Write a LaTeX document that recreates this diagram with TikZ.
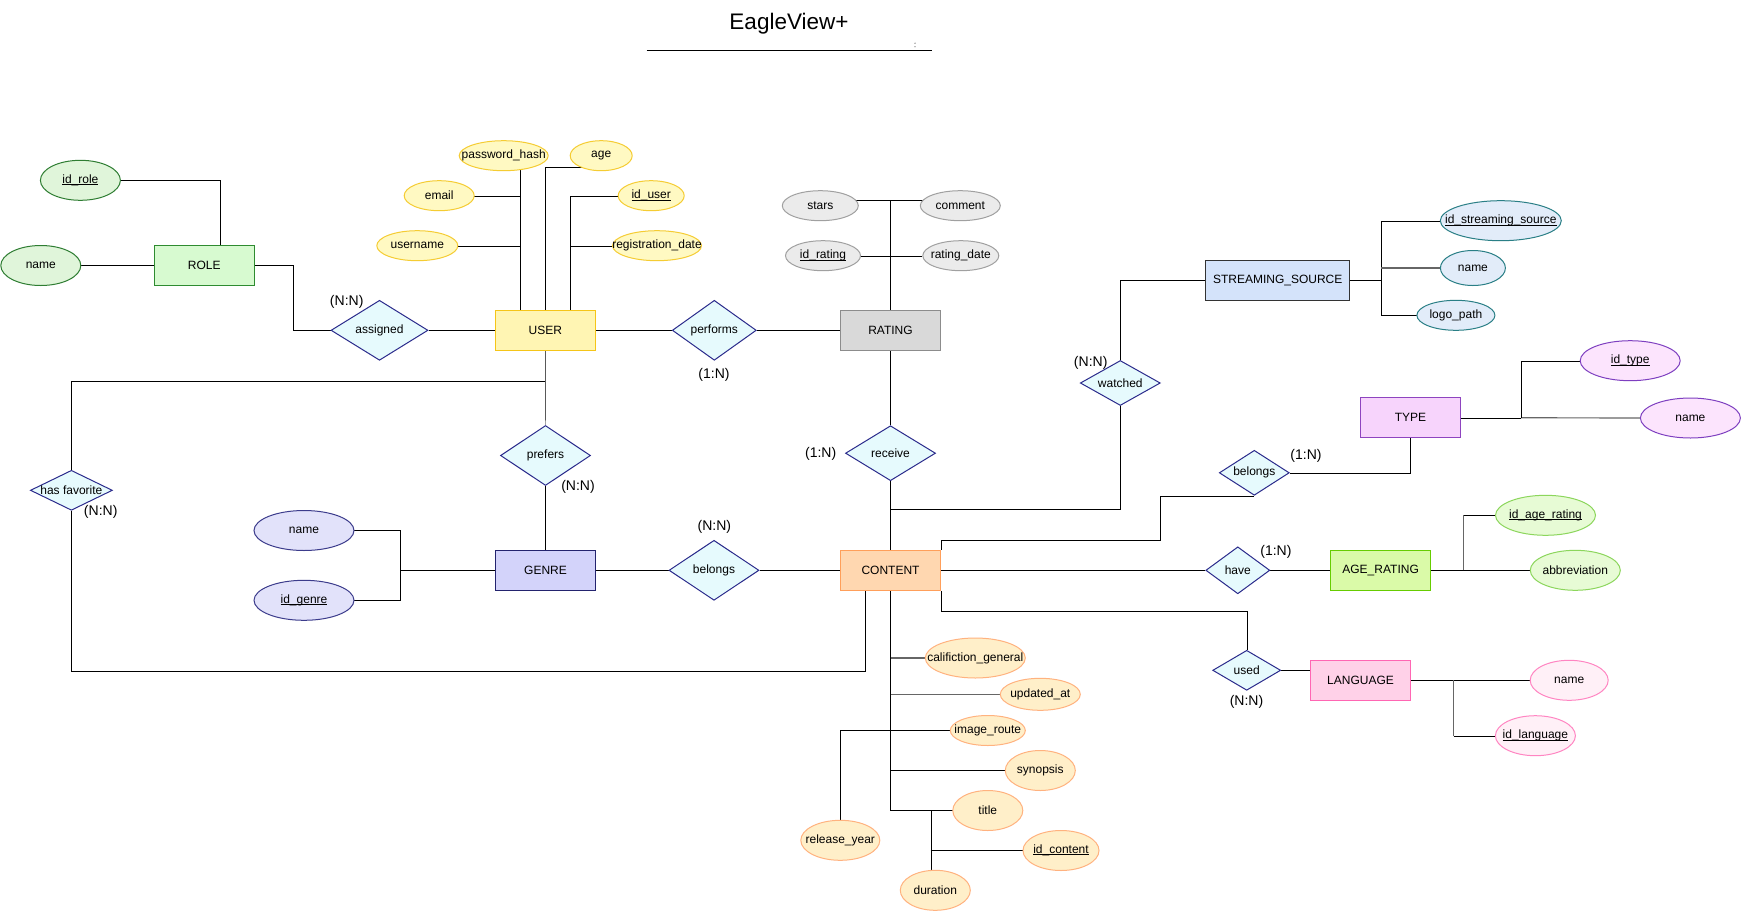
\documentclass[tikz,border=0pt]{standalone}
\usepackage{fontspec}
\setmainfont{Liberation Sans}
\usetikzlibrary{shapes.geometric,calc,backgrounds}

% key attributes: underline drawn just below the baseline
\newcommand\keyattr[1]{\setbox0\hbox{#1}\rlap{\rule[-1.6pt]{\wd0}{0.8pt}}\box0}

% entity / attribute palettes
\definecolor{roleFill}{HTML}{D7FAD0}   \definecolor{roleLine}{HTML}{2E8B30}
\definecolor{roleAFill}{HTML}{E0F5DA}  \definecolor{roleALine}{HTML}{2E7D32}
\definecolor{userFill}{HTML}{FFF5B3}   \definecolor{userLine}{HTML}{F5C518}
\definecolor{userAFill}{HTML}{FFF9C2}  \definecolor{userALine}{HTML}{F5CC33}
\definecolor{ratingFill}{HTML}{D9D9D9} \definecolor{ratingLine}{HTML}{8C8C8C}
\definecolor{ratingAFill}{HTML}{EBEBEB}\definecolor{ratingALine}{HTML}{A0A0A0}
\definecolor{ssFill}{HTML}{D4E3FA}     \definecolor{ssLine}{HTML}{333333}
\definecolor{ssAFill}{HTML}{E2ECF9}    \definecolor{ssALine}{HTML}{2A7F86}
\definecolor{typeFill}{HTML}{F7D4FC}   \definecolor{typeLine}{HTML}{8E44BF}
\definecolor{typeAFill}{HTML}{FCE4FD}  \definecolor{typeALine}{HTML}{7E3FC0}
\definecolor{genreFill}{HTML}{D3D3FA}  \definecolor{genreLine}{HTML}{23236E}
\definecolor{genreAFill}{HTML}{E2E2FA} \definecolor{genreALine}{HTML}{3C3C8C}
\definecolor{contentFill}{HTML}{FFD7B0}\definecolor{contentLine}{HTML}{FF9F5A}
\definecolor{contentAFill}{HTML}{FFEFC9}\definecolor{contentALine}{HTML}{FFB27F}
\definecolor{ageFill}{HTML}{DAFAA8}    \definecolor{ageLine}{HTML}{66CC00}
\definecolor{ageAFill}{HTML}{E7FBD5}   \definecolor{ageALine}{HTML}{8CD65C}
\definecolor{langFill}{HTML}{FFD1E8}   \definecolor{langLine}{HTML}{FF66B3}
\definecolor{langAFill}{HTML}{FFF0F7}  \definecolor{langALine}{HTML}{FF85C2}
\definecolor{relFill}{HTML}{E6FAFD}    \definecolor{relLine}{HTML}{2B2B8C}
\definecolor{linkGray}{HTML}{666666}

\begin{document}
\begin{tikzpicture}[x=1pt,y=-1pt,line width=1pt,
  font=\fontsize{12}{14}\selectfont,
  every label/.style={inner sep=0pt,font=\fontsize{12}{14}\selectfont},
  ent/.style={rectangle,draw=#1Line,fill=#1Fill,minimum height=40pt,inner sep=0pt},
  attr/.style={ellipse,draw=#1ALine,fill=#1AFill,inner sep=0pt},
  rel/.style={diamond,draw=relLine,fill=relFill,inner sep=0pt},
  txt/.style={label={center:#1}},
  card/.style={font=\fontsize{14}{16}\selectfont,inner sep=0pt},
  glink/.style={draw=linkGray,line width=1.2pt}]

\useasboundingbox (0,0) rectangle (1741,911);

% heading
\node[font=\fontsize{22.5}{27}\selectfont,anchor=base,inner sep=0pt] (heading) at (789,29.3) {EagleView+};
\coordinate (hl) at (646.7,50);
\coordinate (hr) at (932.3,50);
\draw (hl) -- (hr);
\fill[linkGray] (915,43.2) circle (0.7) (915,46.8) circle (0.6);

% ---------- entities ----------
\node[ent=role,minimum width=100pt] (role) at (204.2,265.5) {ROLE};
\node[ent=user,minimum width=100pt] (user) at (545.3,330.3) {USER};
\node[ent=rating,minimum width=100pt] (rating) at (890.5,330.3) {RATING};
\node[ent=ss,minimum width=144pt] (ss) at (1277.7,280.3) {STREAMING\_SOURCE};
\node[ent=type,minimum width=100pt] (type) at (1410.5,417.8) {TYPE};
\node[ent=genre,minimum width=100pt] (genre) at (545.5,570.3) {GENRE};
\node[ent=content,minimum width=100pt] (content) at (890.5,570.3) {CONTENT};
\node[ent=age,minimum width=100pt] (agerating) at (1380.6,570.3) {AGE\_RATING};
\node[ent=lang,minimum width=100pt] (language) at (1360.5,680.3) {LANGUAGE};

% ---------- attributes ----------
\node[attr=role,minimum width=80pt,minimum height=40pt,txt={\keyattr{id\_role}}] (idrole) at (80.4,180.3) {};
\node[attr=role,minimum width=80pt,minimum height=40pt,txt={name}] (rolename) at (40.8,265.5) {};

\node[attr=user,minimum width=89pt,minimum height=30pt,txt={password\_hash}] (pwd) at (503.7,155.7) {};
\node[attr=user,minimum width=62pt,minimum height=30pt,txt={age}] (age) at (601.2,155.7) {};
\node[attr=user,minimum width=70pt,minimum height=30pt,txt={email}] (email) at (439.2,195.7) {};
\node[attr=user,minimum width=66pt,minimum height=30pt,txt={\keyattr{id\_user}}] (iduser) at (651.2,195.7) {};
\node[attr=user,minimum width=81pt,minimum height=30pt,txt={username}] (username) at (417.3,245.7) {};
\node[attr=user,minimum width=89pt,minimum height=30pt,txt={registration\_date}] (regdate) at (657,245.7) {};

\node[attr=rating,minimum width=76pt,minimum height=30pt,txt={stars}] (stars) at (820.3,205.7) {};
\node[attr=rating,minimum width=80pt,minimum height=30pt,txt={comment}] (comment) at (960.3,205.7) {};
\node[attr=rating,minimum width=75pt,minimum height=30pt,txt={\keyattr{id\_rating}}] (idrating) at (823,255.7) {};
\node[attr=rating,minimum width=76pt,minimum height=30pt,txt={rating\_date}] (ratingdate) at (960.8,255.7) {};

\node[attr=ss,minimum width=121pt,minimum height=40pt,txt={\keyattr{id\_streaming\_source}}] (idss) at (1500.8,220.7) {};
\node[attr=ss,minimum width=65pt,minimum height=35pt,txt={name}] (ssname) at (1472.9,268) {};
\node[attr=ss,minimum width=78pt,minimum height=30pt,txt={logo\_path}] (logo) at (1455.9,315.3) {};

\node[attr=type,minimum width=100pt,minimum height=40pt,txt={\keyattr{id\_type}}] (idtype) at (1630.2,360.7) {};
\node[attr=type,minimum width=100pt,minimum height=40pt,txt={name}] (typename) at (1690.4,418) {};

\node[attr=genre,minimum width=100pt,minimum height=40pt,txt={name}] (gname) at (304,530.5) {};
\node[attr=genre,minimum width=100pt,minimum height=40pt,txt={\keyattr{id\_genre}}] (idgenre) at (304,600.3) {};

\node[attr=content,minimum width=100pt,minimum height=40pt,txt={califiction\_general}] (calif) at (975.3,658) {};
\node[attr=content,minimum width=80pt,minimum height=32pt,txt={updated\_at}] (updated) at (1040.3,694.3) {};
\node[attr=content,minimum width=75pt,minimum height=30pt,txt={image\_route}] (imgroute) at (987.8,730.5) {};
\node[attr=content,minimum width=70pt,minimum height=40pt,txt={synopsis}] (synopsis) at (1040.3,770.5) {};
\node[attr=content,minimum width=70pt,minimum height=40pt,txt={title}] (ctitle) at (987.8,810.5) {};
\node[attr=content,minimum width=76pt,minimum height=40pt,txt={\keyattr{id\_content}}] (idcontent) at (1061,850.5) {};
\node[attr=content,minimum width=70pt,minimum height=40pt,txt={duration}] (duration) at (935.3,890.3) {};
\node[attr=content,minimum width=79pt,minimum height=40pt,txt={release\_year}] (release) at (840.3,840.3) {};

\node[attr=age,minimum width=100pt,minimum height=40pt,txt={\keyattr{id\_age\_rating}}] (idage) at (1545.5,515.3) {};
\node[attr=age,minimum width=90pt,minimum height=40pt,txt={abbreviation}] (abbrev) at (1575.3,570.3) {};

\node[attr=lang,minimum width=78pt,minimum height=40pt,txt={name}] (langname) at (1569.2,680.3) {};
\node[attr=lang,minimum width=80pt,minimum height=40pt,txt={\keyattr{id\_language}}] (idlang) at (1535.4,735.7) {};

% ---------- relationships ----------
\node[rel,minimum width=97pt,minimum height=60pt,txt={assigned}] (assigned) at (379.5,330.3) {};
\node[rel,minimum width=84pt,minimum height=60pt,txt={performs}] (performs) at (714.3,330.3) {};
\node[rel,minimum width=90pt,minimum height=55pt,txt={receive}] (receive) at (890.5,453.2) {};
\node[rel,minimum width=90pt,minimum height=60pt,txt={prefers}] (prefers) at (545.5,455.5) {};
\node[rel,minimum width=90pt,minimum height=60pt,txt={belongs}] (belongs) at (714,570.3) {};
\node[rel,minimum width=80pt,minimum height=45pt,txt={watched}] (watched) at (1120.3,383) {};
\node[rel,minimum width=70pt,minimum height=45pt,txt={belongs}] (belongs2) at (1254.3,472.8) {};
\node[rel,minimum width=64pt,minimum height=47pt,txt={have}] (have) at (1237.8,570.3) {};
\node[rel,minimum width=68pt,minimum height=40pt,txt={used}] (used) at (1246.7,670.3) {};
\node[rel,minimum width=82pt,minimum height=40pt,txt={has favorite}] (hasfav) at (71.4,490.3) {};

% ---------- cardinalities ----------
\node[card] (cAssigned) at (346.7,302) {(N:N)};
\node[card] (cPerforms) at (714,375.3) {(1:N)};
\node[card] (cReceive) at (820.7,454.3) {(1:N)};
\node[card] (cWatched) at (1090.7,362.8) {(N:N)};
\node[card] (cBelongsType) at (1306,456) {(1:N)};
\node[card] (cPrefers) at (578,486.5) {(N:N)};
\node[card] (cHasFav) at (100.7,512) {(N:N)};
\node[card] (cBelongs) at (714.3,526.7) {(N:N)};
\node[card] (cHave) at (1275.9,552) {(1:N)};
\node[card] (cUsed) at (1246.5,701.7) {(N:N)};

% ---------- connectors ----------
\begin{scope}[on background layer]
\fill[white] (0,0) rectangle (1741,911);

% ROLE
\draw (rolename) -- (role);
\draw (idrole.center) -| ($(role.north west)!0.662!(role.north east)$);
\draw (role.east) -- ++(38.6,0) |- (assigned.west);
\draw (assigned) -- (user);

% USER attributes
\coordinate (ua) at ($(user.north west)!0.25!(user.north east)$);
\coordinate (ub) at ($(user.north west)!0.75!(user.north east)$);
\draw (ua) -- (ua |- pwd.center);
\draw (email.center) -- (email.center -| ua);
\draw (username.center) -- (username.center -| ua);
\draw (user.north) |- ($(age.center)+(-12,11.6)$);
\draw (ub) |- (iduser.center);
\draw (regdate.center) -- (regdate.center -| ub);

% USER - RATING - CONTENT
\draw (user) -- (performs);
\draw (performs) -- (rating);
\coordinate (rj) at ($(rating.north)+(0,-109.6)$);
\draw (rating.north) -- (rj);
\draw (stars.center |- rj) -- (comment.center |- rj);
\draw (idrating) -- (ratingdate);
\draw (rating) -- (receive);
\draw (receive) -- (content);

% STREAMING_SOURCE
\draw (watched.north) |- (ss.west);
\coordinate (wj) at ($(content.north)+(0,-40.3)$);
\draw (watched.south) |- (wj);
\coordinate (sb) at ($(ss.east)+(30.8,0)$);
\draw (ss.east) -- (sb);
\draw (idss.center) -| (sb |- logo.center) -- (logo.center);
\draw[glink] (sb |- ssname.center) -- (ssname.center);

% TYPE
\coordinate (tb) at ($(type.east)+(60,0)$);
\draw (type.east) -- (tb);
\draw[glink] (tb) -- (typename);
\draw (tb) |- (idtype.center);
\draw (belongs2.east) -| (type.south);
\draw (content.north east) -- ++(0,-10) -| ($(belongs2.south)+(-93.8,0)$) -- (belongs2.south);

% AGE_RATING
\draw (content) -- (have);
\draw (have) -- (agerating);
\coordinate (ab) at ($(agerating.east)+(32.6,0)$);
\draw (agerating) -- (abbrev);
\draw[glink] (ab) -- (ab |- idage.center);
\draw (ab |- idage.center) -- (idage.center);

% LANGUAGE
\draw (content.south east) -- ++(0,20) -| (used.north);
\draw (used.east) -- (used.east -| language.west);
\coordinate (lb) at ($(language.east)+(42.5,0)$);
\draw (language) -- (langname);
\draw[glink] (lb) -- (lb |- idlang.center);
\draw (lb |- idlang.center) -- (idlang.center);

% GENRE
\draw (user) -- (prefers);
\draw (prefers) -- (genre);
\draw (genre) -- (belongs);
\draw (belongs) -- (content);
\coordinate (gb) at ($(genre.west)+(-95.1,0)$);
\draw (genre.west) -- (gb);
\draw (gname.center) -| (gb) |- (idgenre.center);

% has favorite
\coordinate (hj) at ($(user.south)+(0,30)$);
\draw (hasfav.north) |- (hj);
\coordinate (cb) at ($(content.south west)+(25.2,0)$);
\draw (hasfav.south) |- ($(cb)+(0,80)$) -- (cb);

% CONTENT attributes
\draw (content.south) |- (ctitle.center);
\draw[glink] (content.south |- calif.center) -- (calif.center);
\draw[glink] (content.south |- updated.center) -- (updated.center);
\draw (content.south |- synopsis.center) -- (synopsis.center);
\draw (release.north) |- (imgroute.center);
\coordinate (db) at ($(duration.center)+(-4.6,0)$);
\draw (db) |- (ctitle.center);
\draw (db |- idcontent.center) -- (idcontent.center);
\end{scope}
\end{tikzpicture}
\end{document}
